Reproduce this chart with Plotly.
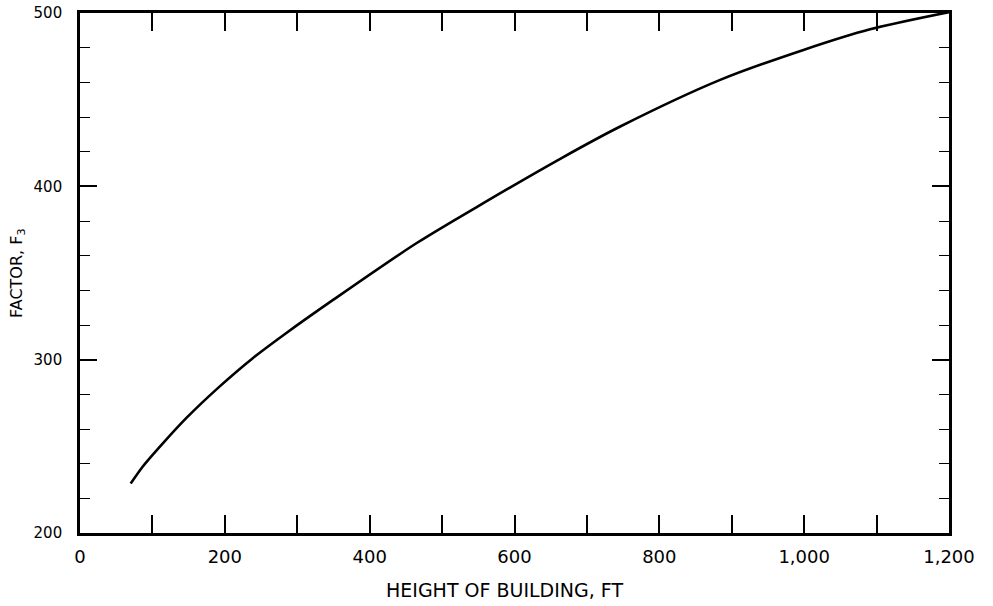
import plotly.graph_objects as go

height_ft = [70, 87, 115, 147, 193, 239, 285, 350, 465, 557, 665, 746, 884, 999, 1091, 1200]
factor_f3 = [228.5, 238.5, 252, 266.4, 284.6, 301, 315.4, 334.6, 367.3, 390.3, 416.3, 434.5, 461.4, 478.7, 490.6, 500.5]

x_tickvals = [0, 200, 400, 600, 800, 1000, 1200]
x_ticktext = ["0", "200", "400", "600", "800", "1,000", "1,200"]
y_tickvals = [200, 300, 400, 500]
y_ticktext = ["200", "300", "400", "500"]

FONT = "DejaVu Sans"

fig = go.Figure()
fig.add_trace(go.Scatter(
    x=height_ft, y=factor_f3, mode="lines",
    line=dict(color="black", width=2.6, shape="spline", smoothing=0.8),
    showlegend=False, hoverinfo="skip",
))

fig.update_xaxes(
    range=[0, 1200], automargin=False,
    tickmode="array", tickvals=x_tickvals, ticktext=x_ticktext,
    ticks="inside", ticklen=18, tickwidth=1.6, tickcolor="black",
    minor=dict(dtick=100, tick0=0, ticks="inside", ticklen=18, tickwidth=1.6, tickcolor="black"),
    showline=True, linewidth=2.6, linecolor="black", mirror="ticks",
    showgrid=False, zeroline=False,
    tickfont=dict(family=FONT, size=18, color="black"),
    ticklabelstandoff=6,
)
fig.update_yaxes(
    range=[200, 500], automargin=False,
    tickmode="array", tickvals=y_tickvals, ticktext=y_ticktext,
    ticks="inside", ticklen=17, tickwidth=1.6, tickcolor="black",
    minor=dict(dtick=20, tick0=200, ticks="inside", ticklen=10, tickwidth=1.4, tickcolor="black"),
    showline=True, linewidth=2.6, linecolor="black", mirror="ticks",
    showgrid=False, zeroline=False,
    tickfont=dict(family=FONT, size=15, color="black"),
    ticklabelstandoff=12,
)

fig.add_annotation(
    text="HEIGHT OF BUILDING, FT", xref="paper", yref="paper",
    x=0.489, y=-0.11, xanchor="center", yanchor="middle", showarrow=False,
    font=dict(family=FONT, size=19, color="black"),
)
fig.add_annotation(
    text="FACTOR, F<sub>3</sub>", xref="paper", yref="paper",
    x=-0.0725, y=0.5, xanchor="center", yanchor="middle", showarrow=False,
    textangle=-90, font=dict(family=FONT, size=16, color="black"),
)

fig.update_layout(
    width=993, height=606,
    margin=dict(l=80, r=44, t=13, b=72.5),
    paper_bgcolor="white", plot_bgcolor="white",
)

fig.write_html("out.html")
